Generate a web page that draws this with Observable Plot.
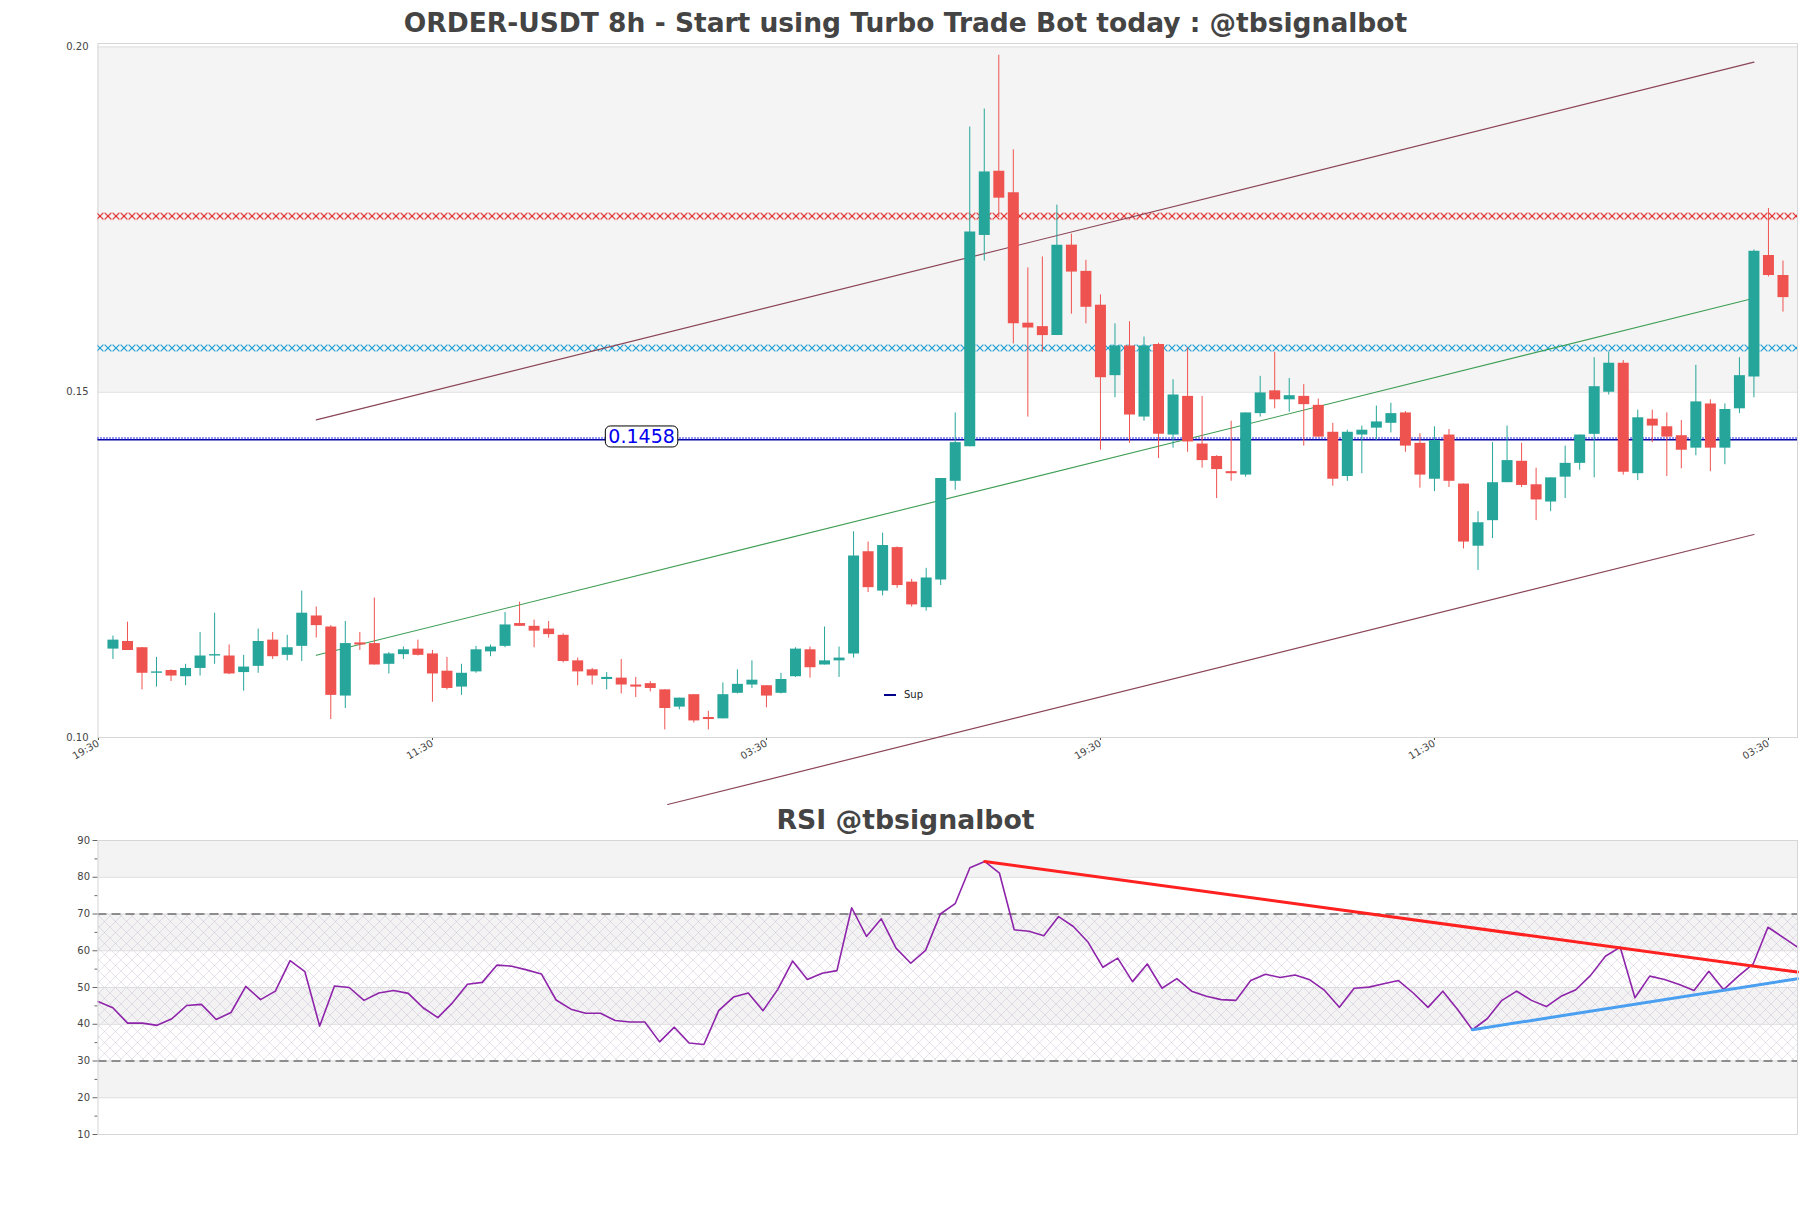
<!DOCTYPE html>
<html><head><meta charset="utf-8">
<script src="https://cdn.jsdelivr.net/npm/d3@7"></script>
<script src="https://cdn.jsdelivr.net/npm/@observablehq/plot@0.6"></script>
<style>
body{margin:0;background:#fff;font-family:"DejaVu Sans",sans-serif;}
#page{position:relative;width:1811px;height:1208px;overflow:hidden;background:#fff;}
.title{position:absolute;left:0;width:1811px;text-align:center;font-weight:bold;color:#444;font-family:"DejaVu Sans",sans-serif;}
#t1{top:0;height:30px;line-height:46px;font-size:26.5px;}
#t2{top:805px;height:23px;line-height:30px;font-size:26.7px;}
#price{position:absolute;left:0;top:30px;}
#rsi{position:absolute;left:0;top:828px;}
#legend{position:absolute;left:884px;top:689px;font-size:10px;color:#222;font-family:"DejaVu Sans",sans-serif;white-space:nowrap;}
#legend span.bar{display:inline-block;width:12px;height:2px;background:#00008b;vertical-align:middle;margin-right:8px;}
</style></head><body>
<div id="page">
  <div class="title" id="t1"></div>
  <div id="price"></div>
  <div id="legend"><span class="bar"></span><span id="legtxt"></span></div>
  <div class="title" id="t2"></div>
  <div id="rsi"></div>
</div>
<script>
const mainTitle = "ORDER-USDT 8h - Start using Turbo Trade Bot today : @tbsignalbot";
const rsiTitle = "RSI @tbsignalbot";
const legendLabel = "Sup";

const tickIdx = [-1, 22, 45, 68, 91, 114];
const tickLabels = ["19:30", "11:30", "03:30", "19:30", "11:30", "03:30"];

const open = [0.1128,0.1139,0.1130,0.1093,0.1097,0.1088,0.1100,0.1118,0.1118,0.1094,
0.1103,0.1141,0.1119,0.1132,0.1176,0.1160,0.1060,0.1137,0.1136,0.1106,
0.1120,0.1128,0.1121,0.1096,0.1073,0.1095,0.1124,0.1132,0.1165,0.1161,
0.1157,0.1148,0.1111,0.1098,0.1084,0.1086,0.1076,0.1078,0.1069,0.1044,
0.1062,0.1029,0.1027,0.1064,0.1076,0.1075,0.1064,0.1088,0.1127,0.1105,
0.1111,0.1121,0.1269,0.1212,0.1275,0.1225,0.1188,0.1228,0.1371,0.1421,
0.1727,0.1820,0.1789,0.1600,0.1595,0.1582,0.1713,0.1675,0.1626,0.1524,
0.1567,0.1464,0.1569,0.1438,0.1494,0.1425,0.1407,0.1385,0.1380,0.1469,
0.1502,0.1489,0.1494,0.1481,0.1442,0.1378,0.1438,0.1448,0.1455,0.1470,
0.1426,0.1374,0.1438,0.1367,0.1277,0.1314,0.1369,0.1400,0.1366,0.1341,
0.1377,0.1397,0.1439,0.1500,0.1542,0.1382,0.1461,0.1450,0.1437,0.1419,
0.1483,0.1419,0.1476,0.1522,0.1698,0.1669];
const high = [0.1147,0.1167,0.1130,0.1116,0.1098,0.1106,0.1152,0.1180,0.1134,0.1119,
0.1157,0.1152,0.1148,0.1212,0.1189,0.1162,0.1168,0.1152,0.1202,0.1123,
0.1131,0.1141,0.1126,0.1116,0.1106,0.1132,0.1134,0.1181,0.1196,0.1170,
0.1168,0.1150,0.1115,0.1100,0.1094,0.1113,0.1087,0.1081,0.1069,0.1057,
0.1062,0.1038,0.1079,0.1098,0.1111,0.1075,0.1093,0.1130,0.1131,0.1160,
0.1131,0.1298,0.1283,0.1296,0.1276,0.1229,0.1245,0.1375,0.1470,0.1884,
0.1910,0.1988,0.1851,0.1680,0.1696,0.1771,0.1729,0.1691,0.1641,0.1599,
0.1602,0.1580,0.1571,0.1518,0.1564,0.1494,0.1408,0.1458,0.1470,0.1523,
0.1558,0.1520,0.1511,0.1490,0.1455,0.1445,0.1451,0.1480,0.1484,0.1472,
0.1440,0.1450,0.1446,0.1367,0.1327,0.1427,0.1451,0.1426,0.1390,0.1376,
0.1422,0.1438,0.1550,0.1558,0.1546,0.1474,0.1474,0.1470,0.1459,0.1539,
0.1489,0.1483,0.1550,0.1706,0.1766,0.1690];
const low = [0.1113,0.1126,0.1069,0.1073,0.1081,0.1075,0.1089,0.1106,0.1091,0.1067,
0.1093,0.1113,0.1111,0.1110,0.1144,0.1026,0.1042,0.1126,0.1105,0.1092,
0.1113,0.1118,0.1051,0.1069,0.1061,0.1093,0.1117,0.1130,0.1161,0.1130,
0.1144,0.1108,0.1075,0.1076,0.1069,0.1063,0.1058,0.1066,0.1011,0.1040,
0.1021,0.1011,0.1027,0.1063,0.1071,0.1043,0.1063,0.1087,0.1086,0.1105,
0.1087,0.1115,0.1210,0.1205,0.1216,0.1189,0.1183,0.1220,0.1358,0.1421,
0.1690,0.1753,0.1570,0.1464,0.1558,0.1582,0.1613,0.1599,0.1416,0.1492,
0.1426,0.1458,0.1404,0.1419,0.1413,0.1390,0.1346,0.1371,0.1377,0.1464,
0.1476,0.1471,0.1422,0.1435,0.1364,0.1371,0.1382,0.1430,0.1441,0.1413,
0.1361,0.1356,0.1362,0.1273,0.1242,0.1288,0.1369,0.1362,0.1314,0.1327,
0.1346,0.1387,0.1376,0.1496,0.1380,0.1372,0.1427,0.1378,0.1389,0.1408,
0.1385,0.1395,0.1469,0.1492,0.1667,0.1616];
const close = [0.1141,0.1126,0.1093,0.1095,0.1089,0.1100,0.1118,0.1120,0.1092,0.1102,
0.1139,0.1117,0.1130,0.1180,0.1162,0.1061,0.1136,0.1134,0.1105,0.1121,
0.1127,0.1119,0.1092,0.1071,0.1093,0.1127,0.1131,0.1163,0.1161,0.1154,
0.1149,0.1110,0.1095,0.1089,0.1087,0.1076,0.1073,0.1071,0.1042,0.1057,
0.1024,0.1026,0.1062,0.1077,0.1083,0.1060,0.1084,0.1128,0.1101,0.1111,
0.1115,0.1263,0.1217,0.1278,0.1220,0.1192,0.1231,0.1375,0.1427,0.1732,
0.1819,0.1781,0.1599,0.1593,0.1582,0.1713,0.1674,0.1623,0.1521,0.1567,
0.1467,0.1567,0.1439,0.1496,0.1428,0.1401,0.1388,0.1382,0.1470,0.1499,
0.1489,0.1495,0.1482,0.1435,0.1374,0.1442,0.1445,0.1457,0.1469,0.1422,
0.1380,0.1430,0.1371,0.1283,0.1311,0.1369,0.1401,0.1365,0.1344,0.1376,
0.1397,0.1438,0.1508,0.1542,0.1384,0.1463,0.1451,0.1435,0.1416,0.1486,
0.1419,0.1475,0.1524,0.1704,0.1669,0.1637];

const rsi = [46.2,44.5,40.3,40.3,39.7,41.5,45.1,45.4,41.3,43.2,
50.3,46.7,49.0,57.3,54.3,39.5,50.4,50.0,46.5,48.5,
49.2,48.4,44.5,41.8,45.9,50.9,51.4,56.1,55.8,54.8,
53.7,46.6,44.1,43.0,43.0,41.0,40.6,40.6,35.2,39.2,
34.9,34.5,43.7,47.4,48.5,43.7,49.5,57.2,52.2,53.9,
54.6,71.7,63.9,68.7,60.7,56.6,60.1,70.0,72.8,82.6,
84.3,81.1,65.7,65.3,64.1,69.3,66.6,62.3,55.5,58.0,
51.6,56.4,49.8,52.4,49.0,47.6,46.7,46.5,51.9,53.6,
52.7,53.4,52.1,49.2,44.6,49.8,50.1,51.0,51.9,48.5,
44.6,49.0,44.0,38.5,41.5,46.5,49.0,46.5,44.8,47.6,
49.4,53.3,58.5,61.0,47.2,53.1,52.2,50.8,49.2,54.4,
49.4,53.1,56.4,66.4,63.7,61.0];

// horizontal levels
const resLevel = 0.1755;
const midLevel = 0.1564;
const supLevel = 0.1431;
const supLabel = "0.1458";
const supLabelAt = 36.4;

// channel lines (index, value)
const upperX = [14, 113], upperY = [0.1460, 0.1978];
const midX = [14, 113], midY = [0.1119, 0.1636];
const lowerX = [38.2, 113], lowerY = [0.0903, 0.1294];

// RSI trend lines
const rsiResX = [60, 115], rsiResY = [84.3, 54.2];
const rsiSupX = [93, 115], rsiSupY = [38.5, 52.4];
const rsiBandsGray = [[80, 90], [60, 70], [40, 50], [20, 30]];
const rsiHatch = [[30, 70]];
const rsiGuides = [70, 30];
const rsiTicks = [10, 20, 30, 40, 50, 60, 70, 80, 90];
const rsiMinor = [15, 25, 35, 45, 55, 65, 75, 85];

const GREEN = "#26a69a", RED = "#ef5350";
const candles = open.map((o, i) => ({i, open: o, high: high[i], low: low[i], close: close[i], c: close[i] >= o ? GREEN : RED}));
const pts = (xs, ys) => xs.map((x, k) => ({x, y: ys[k]}));

document.getElementById("t1").textContent = mainTitle;
document.getElementById("t2").textContent = rsiTitle;
document.getElementById("legtxt").textContent = legendLabel;

const priceChart = Plot.plot({
  width: 1811, height: 775,
  marginTop: 13, marginBottom: 68, marginLeft: 97.5, marginRight: 14,
  style: {fontFamily: "DejaVu Sans", fontSize: "10px", color: "#444", background: "transparent", overflow: "visible"},
  x: {domain: [-1.03, 116], ticks: tickIdx, tickFormat: v => tickLabels[tickIdx.indexOf(v)] ?? "", tickRotate: -30, tickSize: 3, tickPadding: 2, label: null},
  y: {domain: [0.10, 0.2005], ticks: [0.10, 0.15, 0.20], tickFormat: ".2f", tickSize: 0, tickPadding: 9.5, label: null},
  marks: [
    Plot.rect([{a: 0.15, b: 0.20}], {y1: "a", y2: "b", fill: "#f4f4f4"}),
    Plot.ruleY([0.15, 0.20], {stroke: "#dedede"}),
    Plot.frame({stroke: "#d6d6d6"}),
    Plot.ruleY([resLevel], {stroke: "url(#xred)", strokeWidth: 8}),
    Plot.ruleY([midLevel], {stroke: "url(#xcyan)", strokeWidth: 8}),
    Plot.ruleY([supLevel], {stroke: "#00009a", strokeWidth: 1.5}),
    Plot.ruleY([supLevel], {stroke: "#2a2ae6", strokeWidth: 2.5, strokeDasharray: "1,2", dy: -1.5}),
    Plot.line(pts(upperX, upperY), {x: "x", y: "y", stroke: "#8b4557", strokeWidth: 1.2}),
    Plot.line(pts(midX, midY), {x: "x", y: "y", stroke: "#3f9e55", strokeWidth: 1.1}),
    Plot.line(pts(lowerX, lowerY), {x: "x", y: "y", stroke: "#8b4557", strokeWidth: 1.2}),
    Plot.ruleX(candles, {x: "i", y1: "low", y2: "high", stroke: "c", strokeWidth: 1}),
    Plot.ruleX(candles, {x: "i", y1: "open", y2: "close", stroke: "c", strokeWidth: 11}),
    Plot.text([{x: supLabelAt, y: supLevel, t: supLabel}], {x: "x", y: "y", text: "t", fill: "#0000ee", fontSize: 19, dy: -3})
  ]
});

const rsiChart = Plot.plot({
  width: 1811, height: 380,
  marginTop: 12, marginBottom: 74, marginLeft: 97.5, marginRight: 14,
  style: {fontFamily: "DejaVu Sans", fontSize: "10px", color: "#444", background: "transparent"},
  x: {domain: [0, 115], axis: null},
  y: {domain: [10, 90], label: null},
  marks: [
    Plot.rect(rsiBandsGray, {y1: d => d[0], y2: d => d[1], fill: "#f3f3f3"}),
    Plot.rect(rsiHatch, {y1: d => d[0], y2: d => d[1], fill: "url(#hatch)"}),
    Plot.ruleY(rsiTicks, {stroke: "#dcdcdc"}),
    Plot.axisY(rsiTicks, {tickSize: 5, tickPadding: 3, label: null, stroke: "#666"}),
    Plot.axisY(rsiMinor, {tickSize: 3, tickFormat: () => "", label: null, stroke: "#666"}),
    Plot.ruleY(rsiGuides, {stroke: "#333", strokeWidth: 1.2, strokeDasharray: "9,5"}),
    Plot.line(rsi.map((v, i) => ({i, v})), {x: "i", y: "v", stroke: "#8e24aa", strokeWidth: 1.6}),
    Plot.line(pts(rsiResX, rsiResY), {x: "x", y: "y", stroke: "#ff2020", strokeWidth: 3}),
    Plot.line(pts(rsiSupX, rsiSupY), {x: "x", y: "y", stroke: "#4a9ff0", strokeWidth: 3}),
    Plot.frame({stroke: "#d6d6d6"})
  ]
});

document.getElementById("price").appendChild(priceChart);
document.getElementById("rsi").appendChild(rsiChart);

const NS = "http://www.w3.org/2000/svg";
function el(name, attrs) { const e = document.createElementNS(NS, name); for (const k in attrs) e.setAttribute(k, attrs[k]); return e; }
function xPattern(id, color, yc) {
  const p = el("pattern", {id, patternUnits: "userSpaceOnUse", x: 0, y: yc - 4, width: 8, height: 8});
  p.appendChild(el("path", {d: "M0.6,0.6L7.4,7.4M0.6,7.4L7.4,0.6", stroke: color, "stroke-width": 1.2, fill: "none"}));
  return p;
}
const ys = priceChart.scale("y");
const defs1 = el("defs", {});
defs1.appendChild(xPattern("xred", "#e02828", ys.apply(resLevel)));
defs1.appendChild(xPattern("xcyan", "#1c9fd2", ys.apply(midLevel)));
priceChart.insertBefore(defs1, priceChart.firstChild);

const defs2 = el("defs", {});
const hp = el("pattern", {id: "hatch", patternUnits: "userSpaceOnUse", width: 11, height: 11});
hp.appendChild(el("path", {d: "M0,0L11,11M11,0L0,11", stroke: "#b7a6c9", "stroke-width": 0.6, opacity: 0.55, fill: "none"}));
defs2.appendChild(hp);
rsiChart.insertBefore(defs2, rsiChart.firstChild);

// rounded box behind the level label
const lab = [...priceChart.querySelectorAll("text")].find(t => t.textContent === supLabel);
if (lab) {
  const bb = lab.getBBox();
  const r = el("rect", {x: bb.x - 3, y: bb.y + 1, width: bb.width + 6, height: bb.height - 1, rx: 5, ry: 5, fill: "#fff", stroke: "#000", "stroke-width": 1});
  if (lab.getAttribute("transform")) r.setAttribute("transform", lab.getAttribute("transform"));
  lab.parentNode.insertBefore(r, lab);
}
</script>
</body></html>
